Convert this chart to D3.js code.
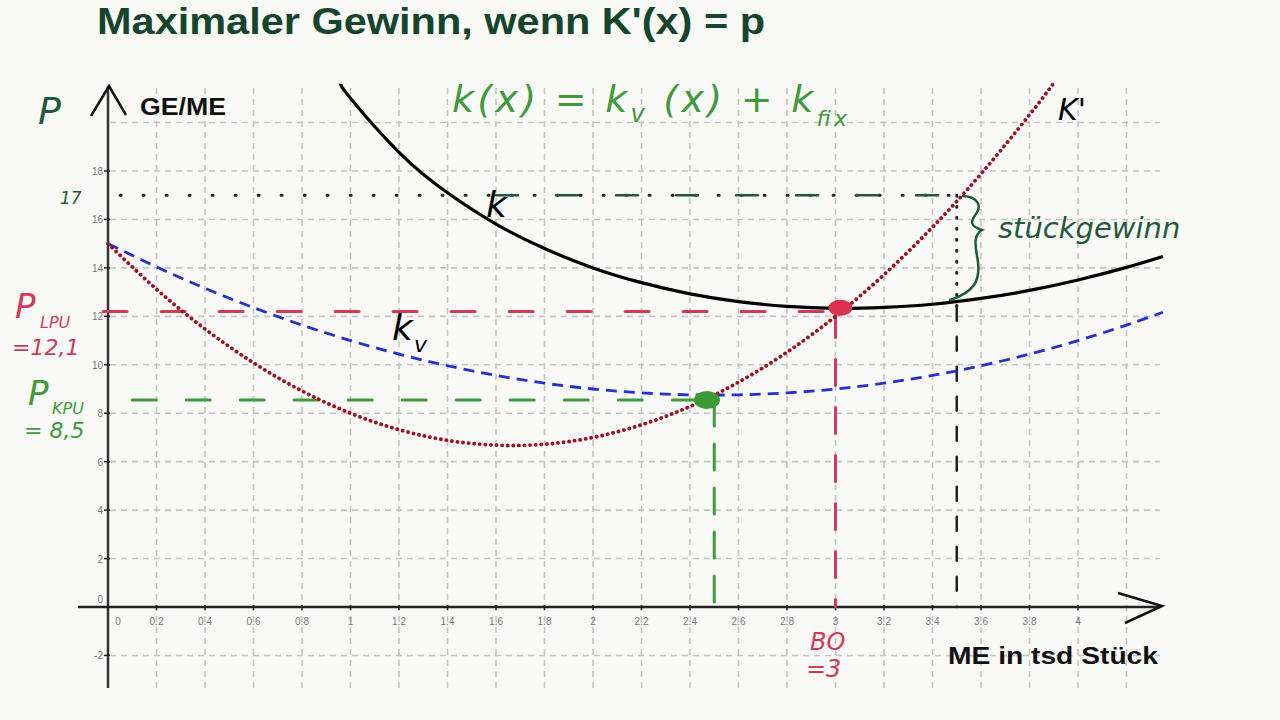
<!DOCTYPE html>
<html>
<head>
<meta charset="utf-8">
<script src="https://cdn.jsdelivr.net/npm/d3@7"></script>
<style>
body{margin:0;background:#f9f9f7;}
svg{display:block;}
.tick-label{font-family:"Liberation Sans",Arial,sans-serif;font-size:10px;fill:#777;}
.hand{font-family:"DejaVu Sans",sans-serif;font-style:oblique;}
</style>
</head>
<body>
<div id="chart"></div>
<script>
// werte
var xsK = [0.96, 1.0, 1.2, 1.4, 1.6, 1.8, 2.0, 2.2, 2.4, 2.6, 2.8, 3.0, 3.2, 3.4, 3.6, 3.8, 4.0, 4.2, 4.35];
var kVals = [21.6, 21.0, 18.77, 17.1, 15.81, 14.8, 14.0, 13.39, 12.93, 12.61, 12.41, 12.33, 12.37, 12.5, 12.74, 13.07, 13.5, 14.02, 14.47];

var xsKv = [0, 0.2, 0.4, 0.6, 0.8, 1.0, 1.2, 1.4, 1.6, 1.8, 2.0, 2.2, 2.4, 2.6, 2.8, 3.0, 3.2, 3.4, 3.6, 3.8, 4.0, 4.2, 4.35];
var kvVals = [15, 14.04, 13.16, 12.36, 11.64, 11.0, 10.44, 9.96, 9.56, 9.24, 9.0, 8.84, 8.76, 8.76, 8.84, 9.0, 9.24, 9.56, 9.96, 10.44, 11.0, 11.64, 12.17];

var xsGK = [0, 0.2, 0.4, 0.6, 0.8, 1.0, 1.2, 1.4, 1.6, 1.8, 2.0, 2.2, 2.4, 2.6, 2.8, 3.0, 3.2, 3.4, 3.6, 3.8, 3.9];
var gkVals = [15, 13.12, 11.48, 10.08, 8.92, 8.0, 7.32, 6.88, 6.68, 6.72, 7.0, 7.52, 8.28, 9.28, 10.52, 12.0, 13.72, 15.68, 17.88, 20.32, 21.63];

var xTicks = [0, 0.2, 0.4, 0.6, 0.8, 1, 1.2, 1.4, 1.6, 1.8, 2, 2.2, 2.4, 2.6, 2.8, 3, 3.2, 3.4, 3.6, 3.8, 4];
var xTickLabels = ["0", "0.2", "0.4", "0.6", "0.8", "1", "1.2", "1.4", "1.6", "1.8", "2", "2.2", "2.4", "2.6", "2.8", "3", "3.2", "3.4", "3.6", "3.8", "4"];
var yTicks = [-2, 0, 2, 4, 6, 8, 10, 12, 14, 16, 18];
var xGrid = [0.2, 0.4, 0.6, 0.8, 1, 1.2, 1.4, 1.6, 1.8, 2, 2.2, 2.4, 2.6, 2.8, 3, 3.2, 3.4, 3.6, 3.8, 4, 4.2];
var yGrid = [-2, 2, 4, 6, 8, 10, 12, 14, 16, 18, 20];

var pLPU = 12.2, pKPU = 8.55, bo = 3, xKPU = 2.5, xMax = 3.5, pMax = 17;

var width = 1280, height = 720;

var x = d3.scaleLinear().domain([0, 4]).range([108, 1078]);
var y = d3.scaleLinear().domain([0, 18]).range([607, 171]);

var svg = d3.select("#chart").append("svg")
    .attr("width", width)
    .attr("height", height);

// titel
svg.append("text")
    .attr("x", 97).attr("y", 34)
    .attr("textLength", 668)
    .attr("lengthAdjust", "spacingAndGlyphs")
    .style("font-family", "'Liberation Sans',Arial,sans-serif")
    .style("font-weight", "bold")
    .style("font-size", "36px")
    .style("fill", "#16452e")
    .text("Maximaler Gewinn, wenn K'(x) = p");

// gitter
svg.selectAll(".vgrid")
    .data(xGrid)
    .enter().append("line")
    .attr("class", "vgrid")
    .attr("x1", d => x(d)).attr("x2", d => x(d))
    .attr("y1", 88).attr("y2", 690)
    .style("stroke", "#c4c4c4")
    .style("stroke-width", 1.6)
    .style("stroke-dasharray", "6,5");

svg.selectAll(".hgrid")
    .data(yGrid)
    .enter().append("line")
    .attr("class", "hgrid")
    .attr("x1", 110).attr("x2", 1160)
    .attr("y1", d => y(d)).attr("y2", d => y(d))
    .style("stroke", "#c4c4c4")
    .style("stroke-width", 1.6)
    .style("stroke-dasharray", "6,5");

// achsen
svg.append("line")
    .attr("x1", 78).attr("x2", 1160)
    .attr("y1", y(0)).attr("y2", y(0))
    .style("stroke", "#222").style("stroke-width", 2.5);
svg.append("line")
    .attr("x1", x(0)).attr("x2", x(0))
    .attr("y1", 688).attr("y2", 86)
    .style("stroke", "#333").style("stroke-width", 2.5);

// pfeile
svg.append("path")
    .attr("d", "M91,116 L109,86 L126,115")
    .style("fill", "none").style("stroke", "#111").style("stroke-width", 2.5);
svg.append("path")
    .attr("d", "M1118,593 L1162,606 L1125,623")
    .style("fill", "none").style("stroke", "#111").style("stroke-width", 2.5);

// tick-beschriftung
svg.selectAll(".xtick")
    .data(xTicks)
    .enter().append("line")
    .attr("x1", d => x(d)).attr("x2", d => x(d))
    .attr("y1", y(0) - 2).attr("y2", y(0) + 3)
    .style("stroke", "#222").style("stroke-width", 1.5);
svg.selectAll(".xlab")
    .data(xTicks)
    .enter().append("text")
    .attr("class", "tick-label")
    .attr("x", (d, i) => i === 0 ? x(d) + 10 : x(d))
    .attr("y", y(0) + 18)
    .attr("text-anchor", "middle")
    .text((d, i) => xTickLabels[i]);

svg.selectAll(".ytick")
    .data(yTicks)
    .enter().append("line")
    .attr("x1", x(0) - 4).attr("x2", x(0) + 2)
    .attr("y1", d => y(d)).attr("y2", d => y(d))
    .style("stroke", "#222").style("stroke-width", 1.5);
svg.selectAll(".ylab")
    .data(yTicks)
    .enter().append("text")
    .attr("class", "tick-label")
    .attr("x", x(0) - 5)
    .attr("y", d => d === 0 ? y(d) - 4 : y(d) + 4)
    .attr("text-anchor", "end")
    .text(d => d);

// achsentitel
svg.append("text")
    .attr("x", 140).attr("y", 115)
    .attr("textLength", 86)
    .attr("lengthAdjust", "spacingAndGlyphs")
    .style("font-family", "'Liberation Sans',Arial,sans-serif")
    .style("font-weight", "bold").style("font-size", "23px").style("fill", "#111")
    .text("GE/ME");
svg.append("text")
    .attr("x", 948).attr("y", 664)
    .attr("textLength", 210)
    .attr("lengthAdjust", "spacingAndGlyphs")
    .style("font-family", "'Liberation Sans',Arial,sans-serif")
    .style("font-weight", "bold").style("font-size", "23px").style("fill", "#111")
    .text("ME in tsd Stück");

// hilfslinien
function hline(yv, x1, x2, color, dash, w) {
    svg.append("line")
        .attr("x1", x1).attr("x2", x2)
        .attr("y1", y(yv)).attr("y2", y(yv))
        .style("stroke", color).style("stroke-width", w)
        .style("stroke-dasharray", dash).style("stroke-linecap", "round");
}
function vline(xv, y1, y2, color, dash, w) {
    svg.append("line")
        .attr("x1", x(xv)).attr("x2", x(xv))
        .attr("y1", y(y1)).attr("y2", y(y2))
        .style("stroke", color).style("stroke-width", w)
        .style("stroke-dasharray", dash).style("stroke-linecap", "round");
}

hline(pMax, x(0.05), x(xMax), "#222", "1,22", 3);
hline(pMax, x(1.6), x(xMax), "#1f5a3a", "22,38", 2.5);
hline(pLPU, x(-0.02), x(bo), "#d23a55", "24,34", 3);
hline(pKPU, x(0.1), x(xKPU), "#3f9a3a", "24,30", 3);
vline(xKPU, pKPU, 0, "#3f9a3a", "26,18", 3);
vline(bo, pLPU, 0, "#d23a55", "26,22", 3);
vline(xMax, pMax, 12.4, "#222", "1,10", 3);
vline(xMax, 12.4, 0, "#222", "14,16", 2.5);

// kurven
var line = d3.line()
    .x(d => x(d[0]))
    .y(d => y(d[1]))
    .curve(d3.curveNatural);

svg.append("path")
    .datum(xsKv.map((v, i) => [v, kvVals[i]]))
    .attr("d", line)
    .style("fill", "none").style("stroke", "#2630d0")
    .style("stroke-width", 2.8).style("stroke-dasharray", "11,7");

svg.append("path")
    .datum(xsGK.map((v, i) => [v, gkVals[i]]))
    .attr("d", line)
    .style("fill", "none").style("stroke", "#9e1020")
    .style("stroke-width", 3.8).style("stroke-dasharray", "0.1,5.5")
    .style("stroke-linecap", "round");

svg.append("path")
    .datum(xsK.map((v, i) => [v, kVals[i]]))
    .attr("d", line)
    .style("fill", "none").style("stroke", "#000")
    .style("stroke-width", 3.2);

// punkte
svg.append("ellipse")
    .attr("cx", x(3.02)).attr("cy", y(12.35))
    .attr("rx", 12).attr("ry", 8)
    .style("fill", "#e03050");
svg.append("ellipse")
    .attr("cx", x(2.47)).attr("cy", y(8.55))
    .attr("rx", 13).attr("ry", 9)
    .style("fill", "#3c9a34");

// handschrift
function hand(txt, xp, yp, size, color) {
    return svg.append("text")
        .attr("class", "hand")
        .attr("x", xp).attr("y", yp)
        .style("font-size", size + "px")
        .style("fill", color)
        .text(txt);
}

hand("P", 38, 124, 38, "#1f5a3a");
hand("17", 60, 204, 17, "#1f5a3a");

var formel = svg.append("text")
    .attr("class", "hand")
    .attr("x", 452).attr("y", 112)
    .attr("textLength", 395)
    .attr("lengthAdjust", "spacing")
    .style("font-size", "38px")
    .style("fill", "#3f9a3a");
formel.append("tspan").text("k(x) = k");
formel.append("tspan").attr("dy", 10).style("font-size", "24px").text("v");
formel.append("tspan").attr("dy", -10).text(" (x) + k");
formel.append("tspan").attr("dy", 14).style("font-size", "22px").text("fix");

hand("k", 486, 217, 36, "#000");
hand("k", 392, 340, 36, "#000");
hand("v", 414, 352, 22, "#000");
hand("K'", 1058, 120, 30, "#000");
hand("stückgewinn", 998, 238, 29, "#1f5a3a");

hand("P", 15, 318, 34, "#d23a55");
hand("LPU", 40, 328, 16, "#d23a55");
hand("=12,1", 12, 355, 22, "#d23a55");

hand("P", 28, 405, 34, "#3f9a3a");
hand("KPU", 52, 414, 16, "#3f9a3a");
hand("= 8,5", 24, 438, 22, "#3f9a3a");

hand("BO", 810, 650, 24, "#d23a55");
hand("=3", 806, 677, 24, "#d23a55");

// klammer stückgewinn
svg.append("path")
    .attr("d", "M963,196 C978,197 982,206 976,214 C970,222 970,226 982,230 C972,236 976,248 978,262 C980,280 975,292 950,300")
    .style("fill", "none").style("stroke", "#1f5a3a").style("stroke-width", 2.5)
    .style("stroke-linecap", "round");
</script>
</body>
</html>
